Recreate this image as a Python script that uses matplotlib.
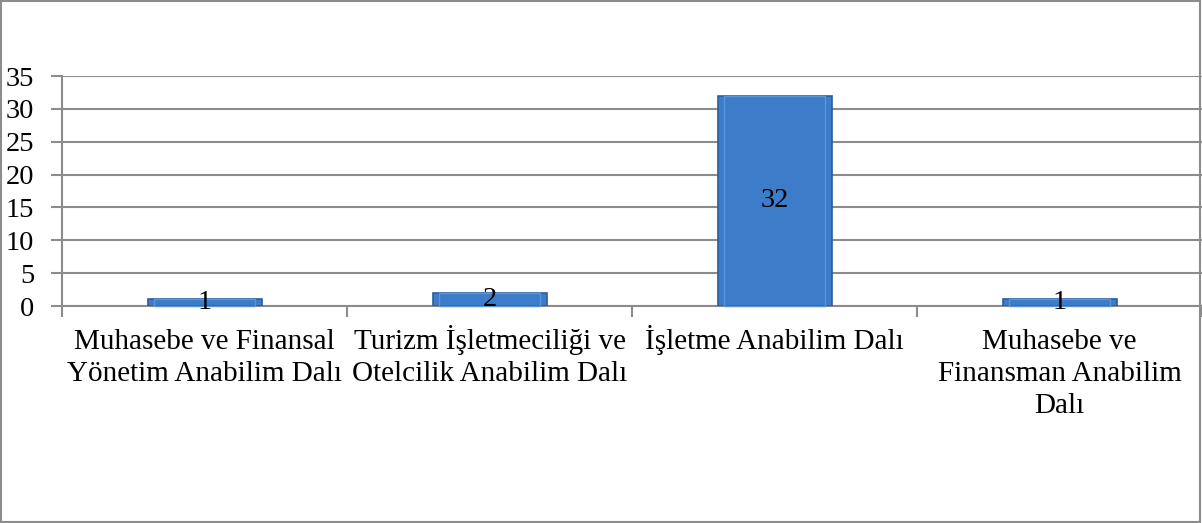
import matplotlib
matplotlib.use("Agg")
import matplotlib.pyplot as plt
import matplotlib.transforms as mtransforms
from matplotlib.patches import Rectangle

categories = ["Muhasebe ve Finansal\nYönetim Anabilim Dalı",
              "Turizm İşletmeciliği ve\nOtelcilik Anabilim Dalı",
              "İşletme Anabilim Dalı",
              "Muhasebe ve\nFinansman Anabilim\nDalı"]
values = [1, 2, 32, 1]
yticks = [0, 5, 10, 15, 20, 25, 30, 35]

W, H = 1202, 523
fig = plt.figure(figsize=(W / 100, H / 100), dpi=100)
plt.rcParams['font.family'] = ['Liberation Serif', 'DejaVu Serif']
FS = 21
NFS = 20.5

cat_w = 288.3
left_px, top_px, bottom_px = 62, 76, 306
ax = fig.add_axes([left_px / W, 1 - bottom_px / H, (W - left_px) / W, (bottom_px - top_px) / H])
n_vis = (W - left_px) / cat_w
ax.set_xlim(-0.5, -0.5 + n_vis)
ax.set_ylim(0, 35)

grid_c = '#8c8c8c'
for s in ['top', 'right']:
    ax.spines[s].set_visible(False)
for s in ['left', 'bottom']:
    ax.spines[s].set_color(grid_c)
    ax.spines[s].set_linewidth(1.5)
ax.set_yticks(yticks)
ax.set_yticklabels([str(v) for v in yticks], fontsize=NFS)
ax.yaxis.grid(True, color=grid_c, linewidth=1.5)
ax.set_axisbelow(True)
ax.tick_params(axis='y', length=8, width=1.5, color=grid_c, pad=12)

x = list(range(len(categories)))
bars = ax.bar(x, values, width=0.4, color='#3d7cc9', edgecolor='#2b5d9c', linewidth=1.2, zorder=3)
# bevel highlight
for b in bars:
    bx, by = b.get_x(), b.get_y()
    bw, bh = b.get_width(), b.get_height()
    ax.add_patch(Rectangle((bx + bw * 0.06, by), bw * 0.88, bh, facecolor='none',
                           edgecolor='#5a95dc', linewidth=1.0, zorder=4,
                           clip_on=False))
ax.bar_label(bars, labels=[str(v) for v in values], label_type='center', fontsize=NFS, zorder=5)

ax.set_xticks([i + 0.5 for i in range(-1, len(categories))])
ax.set_xticklabels([])
ax.tick_params(axis='x', length=8, width=1.5, color=grid_c, direction='out')

base = mtransforms.blended_transform_factory(ax.transData, ax.transAxes)
for xi, lab in zip(x, categories):
    for li, line in enumerate(lab.split("\n")):
        trans = mtransforms.offset_copy(base, fig=fig, x=0, y=-43 - 32 * li, units='dots')
        ax.text(xi, 0, line, transform=trans, ha='center', va='baseline',
                fontsize=FS, clip_on=False)

fig.patches.append(Rectangle((0.0005, 0.001), 0.998, 0.997, transform=fig.transFigure,
                             fill=False, edgecolor='#8c8c8c', linewidth=1.5))

fig.savefig('out.png', dpi=100)
